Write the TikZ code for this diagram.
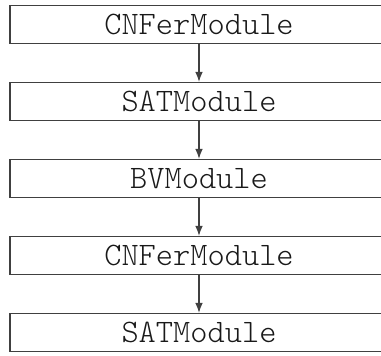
\documentclass[tikz,border=0pt]{standalone}
\usepackage{fontspec}
\usetikzlibrary{arrows.meta}
\newfontfamily\modfont{lmmonolt10-regular.otf}

\tikzset{
  module/.style={draw=black!75, line width=0.6pt, rectangle, inner sep=0pt,
    minimum width=189pt, minimum height=19pt,
    font=\modfont\fontsize{16.4}{18}\selectfont, text=black!90},
  flow/.style={draw=black!75, line width=0.6pt, -{Latex[length=5pt,width=3.8pt]}}
}

\begin{document}
\begin{tikzpicture}[x=0.5pt, y=-0.5pt]
			\useasboundingbox (0,0) rectangle (381,356);
			\node[module] (cnf1) at (199,24.5) {CNFerModule};
			\node[module] (sat1) at (199,101.5) {SATModule};
			\node[module] (bv) at (199,178.5) {BVModule};
			\node[module] (cnf2) at (199,255.5) {CNFerModule};
			\node[module] (sat2) at (199,332.5) {SATModule};
			\draw[flow] (cnf1) -- (sat1);
			\draw[flow] (sat1) -- (bv);
			\draw[flow] (bv) -- (cnf2);
			\draw[flow] (cnf2) -- (sat2);
		\end{tikzpicture}
\end{document}
